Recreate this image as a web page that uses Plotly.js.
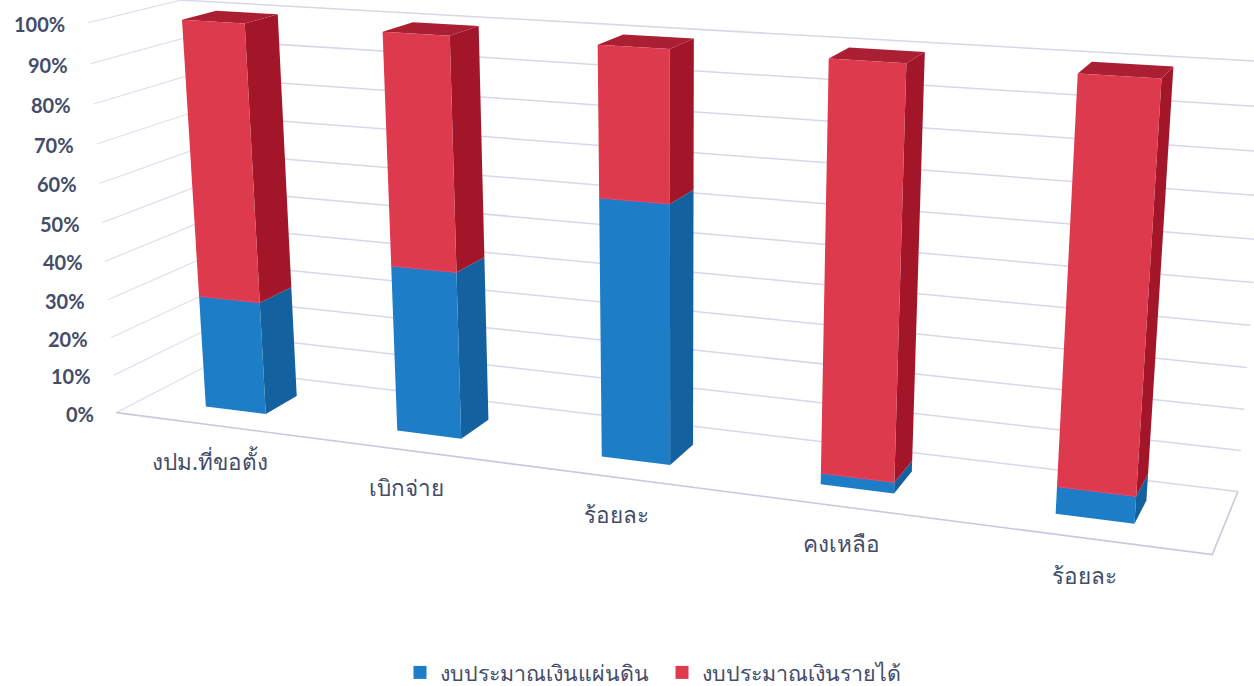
<!DOCTYPE html>
<html><head><meta charset="utf-8">
<script src="https://cdn.plot.ly/plotly-3.0.1.min.js"></script>
<style>html,body{margin:0;padding:0;background:#fff}#c{width:1254px;height:686px}</style>
</head><body><div id="c"></div>
<script>
const categories=['งปม.ที่ขอตั้ง','เบิกจ่าย','ร้อยละ','คงเหลือ','ร้อยละ'];
const seriesNames=['งบประมาณเงินแผ่นดิน','งบประมาณเงินรายได้'];
const landValues=[29.5,42.5,64,2.7,6.5];
const incomeValues=[70.5,57.5,36,97.3,93.5];
const tickValues=[0,10,20,30,40,50,60,70,80,90,100];
const tickLabels=['0%','10%','20%','30%','40%','50%','60%','70%','80%','90%','100%'];

// 3-D scene geometry: u along categories, d into the page, z = share of 100
const BAR_W=0.32, D0=0.30, D1=0.68;
const lft=i=>i+0.5-BAR_W/2, rgt=i=>i+0.5+BAR_W/2;
// camera calibration: scene point -> where it sits on the page
const calib=[
 [0,0,0,115,412],[5,0,0,1213,556],[5,1,0,1237,489],[0,1,0,205,365],[0,0,1,86,23],[0,1,1,173,1],[5,1,1,1272,63],
 [lft(0),D0,0,206,406],[rgt(0),D0,0,265,413],[rgt(0),D1,0,298,394],[lft(0),D0,1,183,21],[rgt(0),D0,1,245,24],[lft(0),D1,1,218,12],[rgt(0),D1,1,279,15],
 [lft(1),D0,0,398,431],[rgt(1),D0,0,460,438],[rgt(1),D1,0,488,424],[lft(1),D0,1,384,32],[rgt(1),D0,1,452,36],[lft(1),D1,1,414,24],[rgt(1),D1,1,481,27],
 [lft(2),D0,0,602,457],[rgt(2),D0,0,669,465],[rgt(2),D1,0,694,443],[lft(2),D0,1,598,44],[rgt(2),D0,1,668,47],[lft(2),D1,1,626,34],[rgt(2),D1,1,694,38],
 [lft(3),D0,0,822,484],[rgt(3),D0,0,893,493],[rgt(3),D1,0,911,472],[lft(3),D0,1,829,58],[rgt(3),D0,1,904,62],[lft(3),D1,1,852,47],[rgt(3),D1,1,923,51],
 [lft(4),D0,0,1057,515],[rgt(4),D0,0,1134,524],[rgt(4),D1,0,1146,505],[lft(4),D0,1,1078,73],[rgt(4),D0,1,1160,77],[lft(4),D1,1,1091,61],[rgt(4),D1,1,1171,66]
];
function solve(A,b){const n=b.length;for(let c=0;c<n;c++){let p=c;for(let r=c+1;r<n;r++)if(Math.abs(A[r][c])>Math.abs(A[p][c]))p=r;
 [A[c],A[p]]=[A[p],A[c]];[b[c],b[p]]=[b[p],b[c]];
 for(let r=c+1;r<n;r++){const f=A[r][c]/A[c][c];for(let k=c;k<n;k++)A[r][k]-=f*A[c][k];b[r]-=f*b[c];}}
 const x=Array(n).fill(0);for(let r=n-1;r>=0;r--){let s=b[r];for(let k=r+1;k<n;k++)s-=A[r][k]*x[k];x[r]=s/A[r][r];}return x;}
const H=(()=>{const A=Array.from({length:11},()=>Array(11).fill(0)),b=Array(11).fill(0);
 const add=(row,v)=>{for(let i=0;i<11;i++){b[i]+=row[i]*v;for(let j=0;j<11;j++)A[i][j]+=row[i]*row[j];}};
 calib.forEach(([u,d,z,X,Y])=>{X/=1000;Y/=1000;
  add([u,d,z,1,0,0,0,0,-X*u,-X*d,-X*z],X);add([0,0,0,0,u,d,z,1,-Y*u,-Y*d,-Y*z],Y);});
 return solve(A,b);})();
function P(u,d,z){const w=H[8]*u+H[9]*d+H[10]*z+1;
 return [1000*(H[0]*u+H[1]*d+H[2]*z+H[3])/w,1000*(H[4]*u+H[5]*d+H[6]*z+H[7])/w];}

const traces=[];
const GRID='#d7d7ea', EDGE='#c8c8de';
function lineTrace(pts,color,width){traces.push({type:'scatter',mode:'lines',x:pts.map(p=>p[0]),y:pts.map(p=>p[1]),
 line:{color,width},showlegend:false,hoverinfo:'skip'});}
tickValues.forEach((t,k)=>{const z=t/100;
 lineTrace([P(0,0,z),P(0,1,z)],'#e0e0ec',1.2);
 lineTrace([P(0,1,z),P(5,1,z)],GRID,1.5);});
lineTrace([P(0,0,0),P(5,0,0),P(5,1,0)],EDGE,1.6);

function poly(pts,color,name,grp){traces.push({type:'scatter',mode:'lines',fill:'toself',fillcolor:color,
 x:[...pts.map(p=>p[0]),pts[0][0]],y:[...pts.map(p=>p[1]),pts[0][1]],line:{width:0,color},
 showlegend:false,legendgroup:grp,name,hoverinfo:'skip'});}
function box(i,z0,z1,front,side,top,name,grp){const L=lft(i),R=rgt(i);
 poly([P(R,D0,z0),P(R,D1,z0),P(R,D1,z1),P(R,D0,z1)],side,name,grp);
 if(top)poly([P(L,D0,z1),P(R,D0,z1),P(R,D1,z1),P(L,D1,z1)],top,name,grp);
 poly([P(L,D0,z0),P(R,D0,z0),P(R,D0,z1),P(L,D0,z1)],front,name,grp);}
categories.forEach((c,i)=>{const a=landValues[i]/100,b=(landValues[i]+incomeValues[i])/100;
 box(i,0,a,'#1d7dc6','#14619f',null,seriesNames[0],'land');
 box(i,a,b,'#dd3a4d','#a3162a','#ab1f33',seriesNames[1],'income');
 lineTrace([P(lft(i),D0,a),P(rgt(i),D0,a)],'#e8406a',1);});
[['#1d7dc6',0,'land'],['#dd3a4d',1,'income']].forEach(([col,k,grp])=>traces.push({type:'scatter',mode:'markers',x:[null],y:[null],
 name:seriesNames[k],legendgroup:grp,showlegend:true,marker:{symbol:'square',size:13,color:col},hoverinfo:'skip'}));

const INK='#434c68';
const annotations=[
 ...tickValues.map((t,k)=>{const p=P(0,0,t/100);return {x:p[0]-20.5,y:p[1]+1,xref:'x',yref:'y',text:tickLabels[k],showarrow:false,xanchor:'right',yanchor:'middle',
  font:{family:'Lato, Calibri, sans-serif',size:20,color:INK,weight:700}};}),
 ...categories.map((c,i)=>{const p=P(i+0.5,0,0);return {x:p[0],y:p[1]+37,xref:'x',yref:'y',text:c,showarrow:false,xanchor:'center',yanchor:'middle',
  font:{family:'"Noto Sans", "DejaVu Sans", sans-serif',size:22.5,color:INK}};})
];
Plotly.newPlot('c',traces,{
 width:1254,height:686,margin:{l:0,r:0,t:0,b:0,autoexpand:false},paper_bgcolor:'#fff',plot_bgcolor:'#fff',
 xaxis:{range:[0,1254],visible:false,fixedrange:true},
 yaxis:{range:[686,0],visible:false,fixedrange:true},
 showlegend:true,
 legend:{orientation:'h',x:400/1254,xanchor:'left',y:1-652/686,yanchor:'top',bgcolor:'rgba(0,0,0,0)',entrywidth:217,entrywidthmode:'pixels',
  font:{family:'"Noto Sans", "DejaVu Sans", sans-serif',size:21.4,color:INK}},
 annotations
},{displayModeBar:false,staticPlot:true});
</script></body></html>
